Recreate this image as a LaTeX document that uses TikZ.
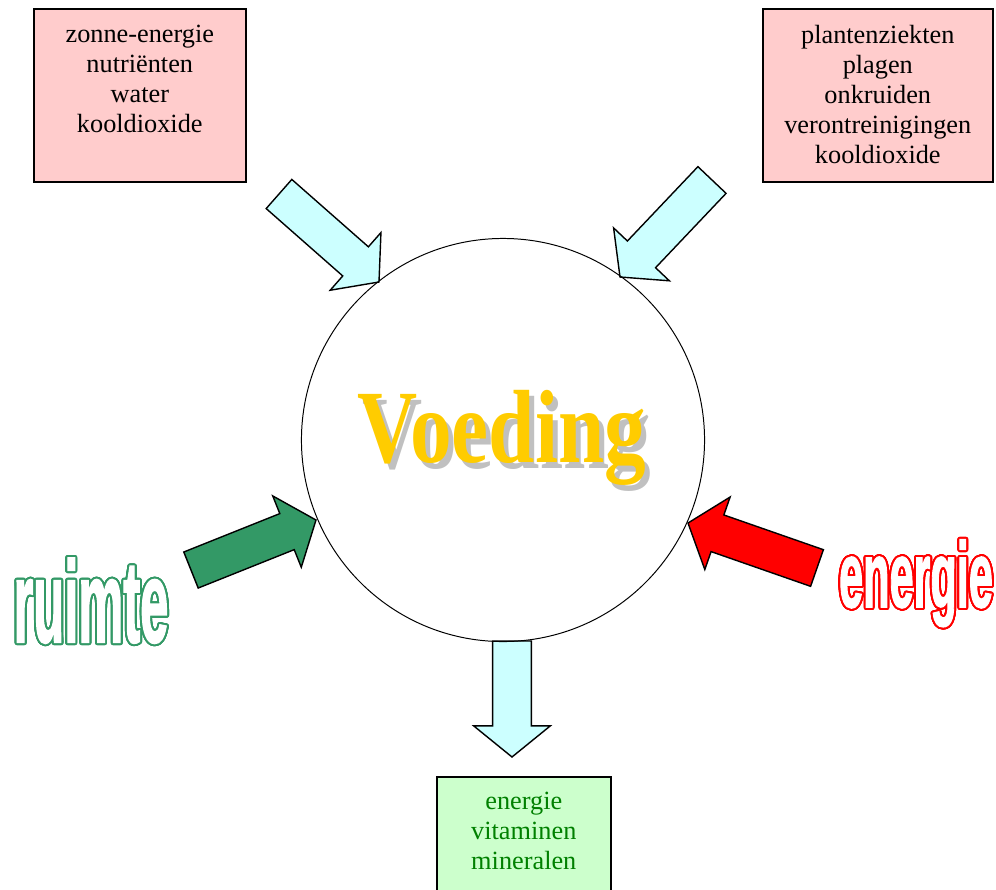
\documentclass[tikz,border=0pt]{standalone}
\usepackage{fontspec}
\setmainfont{Liberation Serif}
\newfontfamily\wordartfont{Liberation Sans}[FakeBold = 2]
\usepackage{graphicx}
\usepackage{contour}
\contourlength{1.4pt}
\contournumber{32}
\usetikzlibrary{calc}

\definecolor{boxpink}{HTML}{FFCCCC}
\definecolor{boxgreen}{HTML}{CCFFCC}
\definecolor{textgreen}{HTML}{008000}
\definecolor{arrowcyan}{HTML}{CCFFFF}
\definecolor{seagreen}{HTML}{339966}
\definecolor{wordyellow}{HTML}{FFCC00}
\definecolor{shadowgray}{HTML}{C0C0C0}

\tikzset{
    infobox/.style = {draw = black, line width = 1.1pt, inner sep = 0pt, anchor = north west},
    boxtext/.style = {font = \fontsize{18.7}{21.3}\selectfont, align = center, anchor = base},
    arrowbody/.style = {draw = black, line width = 1pt, line join = miter},
    titletext/.style = {font = \fontsize{74}{80}\selectfont\bfseries, anchor = base, inner sep = 0pt},
}

% Block arrow: #1 style, #2 tail, #3 tip
\newcommand{\blockarrow}[3]{%
    \coordinate (neck) at ($(#3)!0.78cm!(#2)$);
    \draw [#1] ($(#2)!0.485cm!90:(#3)$) -- ($(neck)!0.485cm!90:(#3)$)
        -- ($(neck)!0.96cm!90:(#3)$) -- (#3) -- ($(neck)!0.96cm!-90:(#3)$)
        -- ($(neck)!0.485cm!-90:(#3)$) -- ($(#2)!0.485cm!-90:(#3)$) -- cycle;
}

\begin{document}
\begin{tikzpicture}[x = 0.025cm, y = -0.025cm]
    \useasboundingbox (0,0) rectangle (996,890);

    % Boxes with inputs and outputs
    \node [infobox, fill = boxpink, minimum width = 5.3cm, minimum height = 4.325cm] (inputs) at (33,8) {};
    \node [infobox, fill = boxpink, minimum width = 5.75cm, minimum height = 4.325cm] (threats) at (762,8) {};
    \node [infobox, fill = boxgreen, minimum width = 4.35cm, minimum height = 3cm] (outputs) at (436,776) {};

    % (base is the last line)
    \node [boxtext] (inputstext) at ($(inputs.north) + (0,124)$) {zonne-energie\\nutriënten\\water\\kooldioxide};
    \node [boxtext] (threatstext) at ($(threats.north) + (0,155)$) {plantenziekten\\plagen\\onkruiden\\verontreinigingen\\kooldioxide};
    \node [boxtext, text = textgreen] (outputstext) at ($(outputs.north) + (0,93)$) {energie\\vitaminen\\mineralen};

    % Arrows into and out of the circle
    \coordinate (inTail) at (279,194);
    \coordinate (inTip) at (379,282);
    \coordinate (threatTail) at (712,180);
    \coordinate (threatTip) at (620,277);
    \coordinate (spaceTail) at (191,570);
    \coordinate (spaceTip) at (316,520);
    \coordinate (energyTail) at (817,568);
    \coordinate (energyTip) at (688,523);
    \coordinate (outTail) at (512,641);
    \coordinate (outTip) at (512,757);

    \blockarrow{arrowbody, fill = arrowcyan}{inTail}{inTip}
    \blockarrow{arrowbody, fill = arrowcyan}{threatTail}{threatTip}
    \blockarrow{arrowbody, fill = seagreen}{spaceTail}{spaceTip}
    \blockarrow{arrowbody, fill = red}{energyTail}{energyTip}
    \blockarrow{arrowbody, fill = arrowcyan}{outTail}{outTip}

    % Circle and title
    \node [draw, circle, minimum size = 10.075cm, line width = 0.7pt] (voeding) at (503,440) {};
    \node [titletext, text = shadowgray] (titleshadow) at (507,468) {\scalebox{0.8}[1]{Voeding}};
    \node [titletext, text = wordyellow] (title) at (502,462) {\scalebox{0.8}[1]{Voeding}};

    % Outlined words
    \node [anchor = base, inner sep = 0pt] (ruimte) at (91,642)
        {\wordartfont\bfseries\fontsize{60}{60}\selectfont\color{white}\contour{seagreen}{\scalebox{0.6}[1.37]{ruimte}}};
    \node [anchor = base, inner sep = 0pt] (energie) at (916,607)
        {\wordartfont\bfseries\fontsize{50}{50}\selectfont\color{white}\contour{red}{\scalebox{0.615}[1.32]{energie}}};

\end{tikzpicture}
\end{document}
